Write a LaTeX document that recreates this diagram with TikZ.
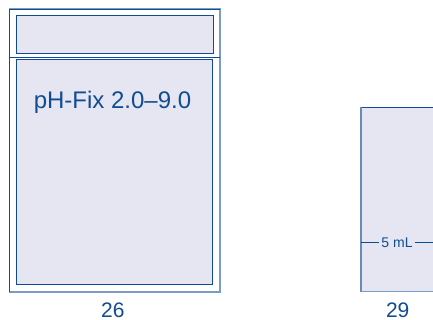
\documentclass[tikz,border=0pt]{standalone}
\usepackage{fontspec}
\setmainfont{Liberation Sans}
\usetikzlibrary{calc}

\definecolor{kitblue}{HTML}{104C92}
\definecolor{kitedge}{HTML}{7C9CC6}
\definecolor{kitfill}{HTML}{E5E6F2}

\begin{document}
\begin{tikzpicture}[x=1pt,y=-1pt]

\useasboundingbox (0,0) rectangle (433,320);

% Corners of the pack (26)
\coordinate (A) at (9.5, 9);
\coordinate (B) at (220, 291.7);
\coordinate (SL) at (9.5, 57.3);
\coordinate (SR) at (220, 57.3);

% Outer frame of the pack
\draw[kitedge, line width=1.6pt] (A) rectangle (B);
\draw[kitblue, line width=0.8pt] (A |- B) -- (A) -- (B |- A);

% Lid and main panel
\draw[kitblue, line width=1pt, fill=kitfill] (16.7, 16) rectangle (213, 54);
\draw[kitblue, line width=1pt, fill=kitfill] (16, 60) rectangle (212.7, 284.3);

% Line under the lid
\draw[kitblue, line width=0.8pt] (SL) -- (SR);

% Vial (29), cut off at the right
\coordinate (V) at (361, 107.3);
\coordinate (W) at (440, 291.7);
\fill[kitfill] (V) rectangle (W);
\draw[kitblue, line width=0.8pt] (V) -- (W |- V);
\draw[kitedge!80!kitblue, line width=1.5pt] (V) -- (V |- W);
\draw[kitedge, line width=1.2pt] (V |- W) -- (W);

% Labels
\node[kitblue, font=\fontsize{24}{27}\selectfont] (ph) at (112.5, 102) {pH-Fix 2.0--9.0};
\node[kitblue, font=\fontsize{21}{24}\selectfont, inner sep=0pt] (n26) at (112.8, 309.8) {26};
\node[kitblue, font=\fontsize{21}{24}\selectfont, inner sep=0pt] (n29) at (397.7, 309.8) {29};

% Fill mark on the vial
\coordinate (MR) at (433, 242.3);
\coordinate (ML) at (V |- MR);
\node[kitblue, font=\fontsize{14}{16}\selectfont, inner sep=2pt] (ml) at (397, 242.3) {5 mL};
\draw[kitblue, line width=0.7pt] (ML) -- (ml);
\draw[kitblue, line width=0.7pt] (ml) -- (MR);

\end{tikzpicture}
\end{document}
